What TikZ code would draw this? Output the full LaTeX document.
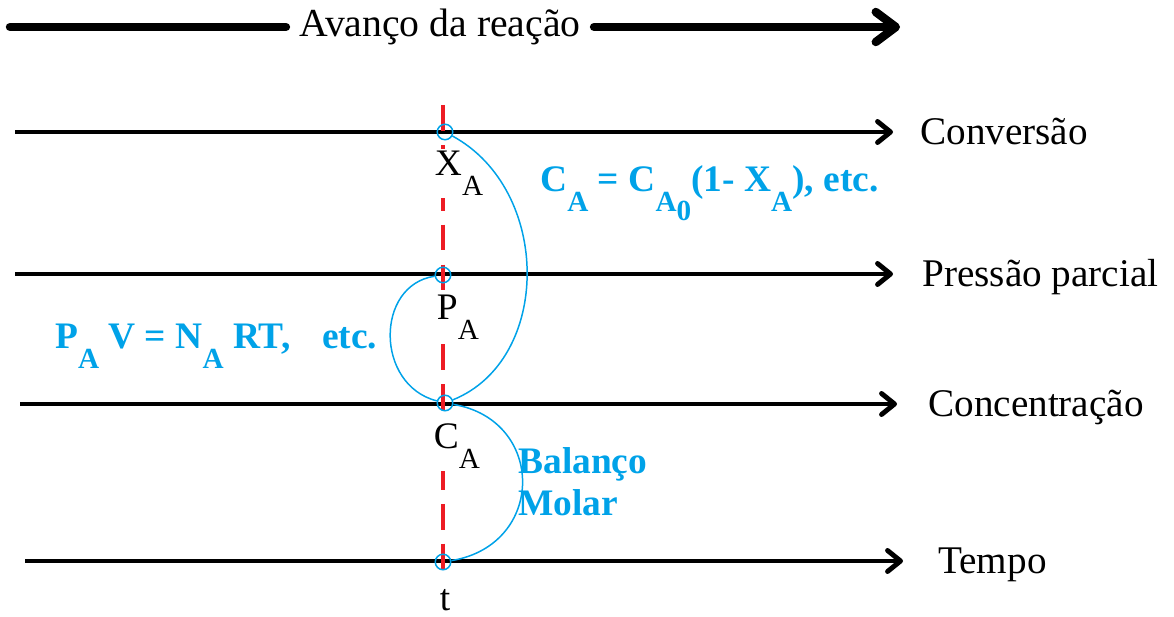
\documentclass[tikz,border=0pt]{standalone}
\usepackage{fontspec}
\setmainfont{Liberation Serif}
\usepackage{tikz}
\usetikzlibrary{
  arrows.meta, % Straight Barb 箭头
  calc         % 坐标计算
}
\definecolor{paintblue}{RGB}{0,162,232} % 曲线与公式的浅蓝色
\definecolor{paintred}{RGB}{237,28,36}  % 竖直虚线的红色
\newcommand{\sbs}[1]{\raisebox{-0.52em}{\scalebox{0.78}{#1}}} % 下沉较多的下标

\begin{document}
\begin{tikzpicture}[x=0.02cm, y=-0.02cm, % 以像素为单位，y 轴向下
  axis/.style={line width=2.8pt, -{Straight Barb[length=0.26cm,width=0.42cm,round]}},
  topline/.style={line width=4.8pt, line cap=round},
  axlbl/.style={anchor=base west, inner sep=0pt, font=\fontsize{22.3}{26}\selectfont},
  ptlbl/.style={anchor=base west, fill=white, inner sep=1.5pt, font=\fontsize{21.3}{24}\selectfont},
  eqlbl/.style={text=paintblue, inner sep=0pt, font=\bfseries\fontsize{21.3}{24}\selectfont},
  ptring/.style={circle, draw=paintblue, line width=0.85pt, minimum size=0.31cm, inner sep=0pt},
  link/.style={paintblue, line width=0.85pt},
  cut/.style={paintred, line width=2.8pt, dash pattern=on 14.7pt off 8pt}]
  \useasboundingbox (0,0) rectangle (1174,617); % 固定画面大小

  % 顶部的“反应进度”箭头
  \node[inner xsep=0.26cm, inner ysep=0pt, font=\fontsize{22.6}{26}\selectfont] (avanco) at (440,27) {Avanço da reação};
  \coordinate (topL) at (10,27);
  \coordinate (topR) at (900,27);
  \draw[topline] (topL) -- (avanco); % 左段
  \draw[topline, -{Straight Barb[length=0.4cm,width=0.6cm,round]}] (avanco) -- (topR); % 右段带箭头

  % 四条水平轴
  \coordinate (convL) at (15,132);  \coordinate (convR) at (893,132);
  \coordinate (presL) at (15,274);  \coordinate (presR) at (893,274);
  \coordinate (concL) at (20,404);  \coordinate (concR) at (897,404);
  \coordinate (tempL) at (25,561);  \coordinate (tempR) at (903,561);
  \draw[axis] (convL) -- (convR);
  \draw[axis] (presL) -- (presR);
  \draw[axis] (concL) -- (concR);
  \draw[axis] (tempL) -- (tempR);
  \node[axlbl] (conv) at (920,145) {Conversão};
  \node[axlbl] (pres) at (922,287) {Pressão parcial};
  \node[axlbl] (conc) at (928,417) {Concentração};
  \node[axlbl] (temp) at (938,574) {Tempo};

  % 红色竖直虚线
  \coordinate (cutT) at (443,105);
  \coordinate (cutB) at (443,580);
  \draw[cut] (cutT) -- (cutB);

  % 交点下方的变量名（白底遮住虚线）
  \node[ptlbl] (xalbl) at (432,176) {X\sbs{A}};
  \node[ptlbl] (palbl) at (434,320) {P\sbs{A}};
  \node[ptlbl] (calbl) at (431,449) {C\sbs{A}};
  \node[ptlbl] (tlbl) at (437,611) {t};

  % 交点处的小圆圈
  \node[ptring] (xa) at (445,132) {};
  \node[ptring] (pa) at (443,275) {};
  \node[ptring] (ca) at (445,403) {};
  \node[ptring] (tt) at (443,562) {};

  % 连接各变量的蓝色曲线
  \draw[link] (xa) .. controls (552,190) and (552,360) .. (ca);
  \draw[link] (pa) .. controls (375,285) and (375,385) .. (ca);
  \draw[link] (ca) .. controls (546,420) and (546,545) .. (tt);

  % 蓝色公式与说明
  \node[eqlbl, anchor=base west] (eqconv) at (540,192) {C\sbs{A} = C\sbs{A\raisebox{-0.3em}{0}}(1- X\sbs{A}), etc.};
  \node[eqlbl, anchor=base west] (eqpres) at (55,349) {P\sbs{A} V = N\sbs{A} RT,\hspace{0.85em}etc.};
  \node[eqlbl, anchor=west, align=left] (eqmol) at (518,482) {Balanço\\Molar};
\end{tikzpicture}
\end{document}
